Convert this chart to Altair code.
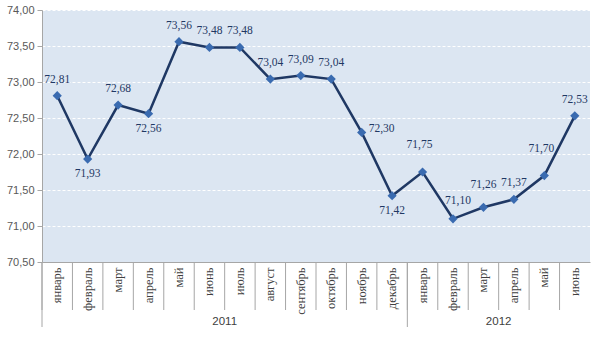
import altair as alt
import pandas as pd

months_2011 = ["январь", "февраль", "март", "апрель", "май", "июнь", "июль", "август",
               "сентябрь", "октябрь", "ноябрь", "декабрь"]
months_2012 = ["январь", "февраль", "март", "апрель", "май", "июнь"]
years = ["2011", "2012"]
values = [72.81, 71.93, 72.68, 72.56, 73.56, 73.48, 73.48, 73.04, 73.09, 73.04, 72.30, 71.42,
          71.75, 71.10, 71.26, 71.37, 71.70, 72.53]
label_side = ["above", "below", "above", "below", "above", "above", "above", "above", "above",
              "above", "right", "below", "high", "aright", "mid", "above", "high", "above"]
y_ticks = [70.5, 71.0, 71.5, 72.0, 72.5, 73.0, 73.5, 74.0]

months = months_2011 + months_2012
n = len(months)
df = pd.DataFrame({
    "i": list(range(n)),
    "month": months,
    "value": values,
    "side": label_side,
    "label": [f"{v:.2f}".replace(".", ",") for v in values],
})

W, H = 548, 252
x_scale = alt.Scale(domain=list(range(n)), type="band", paddingInner=0, paddingOuter=0)
y_scale = alt.Scale(domain=[70.5, 74.0], nice=False, zero=False)

label_expr = "[" + ",".join(f"'{m}'" for m in months) + "][datum.value]"

x_axis = alt.Axis(title=None, labelExpr=label_expr, labelAngle=-90, ticks=False,
                  labelPadding=5, labelFont="Liberation Serif", labelFontSize=12.5,
                  labelColor="#404040", domainColor="#a6a6a6", grid=False,
                  labelOverlap=False)
y_axis = alt.Axis(title=None, values=y_ticks, tickCount=8,
                  labelExpr="replace(format(datum.value, '.2f'), '.', ',')",
                  labelFont="Liberation Sans", labelFontSize=11, labelColor="#595959",
                  domainColor="#a6a6a6", tickColor="#a6a6a6", tickSize=5, labelPadding=3,
                  labelOverlap=False, labelBound=False, labelFlush=False,
                  grid=True, gridColor="white", gridDash=[3, 2], gridWidth=1)

base = alt.Chart(df)
X_plain = alt.X("i:O", scale=x_scale)
Y_plain = alt.Y("value:Q", scale=y_scale)

line = base.mark_line(color="#1f3864", strokeWidth=2.5).encode(
    x=alt.X("i:O", scale=x_scale, axis=x_axis),
    y=alt.Y("value:Q", scale=y_scale, axis=y_axis),
)
points = base.mark_point(shape="diamond", filled=True, size=85, color="#3a6bb0", opacity=1).encode(
    x=X_plain, y=Y_plain,
)

txt_style = dict(font="Liberation Serif", fontSize=11.5, color="#1f3864")
offsets = {"above": (0, -16), "below": (0, 15), "right": (20, -3), "high": (-3, -27),
           "mid": (0, -22), "aright": (5, -18)}
text_layers = []
for side, (ddx, ddy) in offsets.items():
    text_layers.append(
        base.transform_filter(f"datum.side == '{side}'").mark_text(dx=ddx, dy=ddy, **txt_style).encode(
            x=X_plain, y=Y_plain, text="label:N")
    )

# category separators below the axis
sep = base.mark_rule(color="#a6a6a6", strokeWidth=1).encode(
    x=alt.X("i:O", scale=x_scale, bandPosition=0),
    y=alt.value(H), y2=alt.value(H + 48),
)
# year separators (longer)
year_start = pd.DataFrame({"i": [0, len(months_2011)]})
ysep = alt.Chart(year_start).mark_rule(color="#a6a6a6", strokeWidth=1).encode(
    x=alt.X("i:O", scale=x_scale, bandPosition=0),
    y=alt.value(H), y2=alt.value(H + 65),
)
# year labels centred under their months
year_df = pd.DataFrame({"i": [5, 14], "year": years})
year_txt = alt.Chart(year_df).mark_text(font="Liberation Sans", fontSize=11.5, color="#404040").encode(
    x=alt.X("i:O", scale=x_scale, bandPosition=1),
    y=alt.value(H + 60),
    text="year:N",
)

chart = alt.layer(line, points, *text_layers, sep, ysep, year_txt).properties(
    width=W, height=H,
    autosize=alt.AutoSizeParams(type="none"),
    padding={"left": 42, "top": 10, "right": 8, "bottom": 75},
    background="white",
).configure_view(fill="#dce6f2", strokeWidth=0).configure_axis(
    labelOverlap=False, labelBound=False, labelFlush=False
)

chart.save("out.html", embed_options={"renderer": "svg", "actions": False})
